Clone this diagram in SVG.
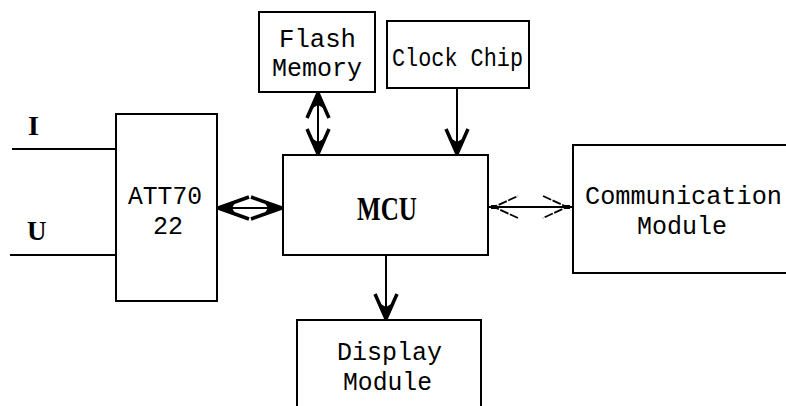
<svg xmlns="http://www.w3.org/2000/svg" width="786" height="406" viewBox="0 0 786 406">
<style>
.box{fill:#fff;stroke:#000;stroke-width:2}
.mono{font-family:"Liberation Mono","DejaVu Sans Mono",monospace;font-size:25px;fill:#000}
.bold{font-family:"Liberation Serif","DejaVu Serif",serif;font-weight:bold;fill:#000}
.ln{stroke:#000;stroke-width:2;fill:none}
</style>
<defs>
<marker id="heavy" markerUnits="userSpaceOnUse" markerWidth="30" markerHeight="24" viewBox="0 0 30 24" refX="28" refY="12" orient="auto-start-reverse" overflow="visible">
<path d="M3,1 L28,12 L3,23" fill="none" stroke="#000" stroke-width="3.5" stroke-linejoin="miter"/>
<polygon points="28,12 12,5 16,12 12,19" fill="#000"/>
</marker>
<marker id="heavyLong" markerUnits="userSpaceOnUse" markerWidth="36" markerHeight="26" viewBox="0 0 36 26" refX="34" refY="13" orient="auto-start-reverse" overflow="visible">
<path d="M3,2 L34,13 L3,24" fill="none" stroke="#000" stroke-width="3.5"/>
<polygon points="34,13 15,5 20,13 15,21" fill="#000"/>
</marker>
<marker id="open" markerUnits="userSpaceOnUse" markerWidth="32" markerHeight="24" viewBox="0 0 32 24" refX="30" refY="12" orient="auto-start-reverse" overflow="visible">
<path d="M0,1 L24,12 L0,23" fill="none" stroke="#000" stroke-width="1.8" stroke-dasharray="9 1.5"/>
<rect x="22" y="10" width="5" height="4" fill="#000"/>
</marker>
</defs>
<g id="connectors">
<line class="ln" x1="12" y1="149" x2="116" y2="149"/>
<line class="ln" x1="10" y1="255" x2="116" y2="255"/>
<line class="ln" x1="218" y1="208" x2="282" y2="208" marker-start="url(#heavyLong)" marker-end="url(#heavyLong)"/>
<line class="ln" x1="318" y1="93" x2="318" y2="154" marker-start="url(#heavy)" marker-end="url(#heavy)"/>
<line class="ln" x1="457" y1="88" x2="457" y2="154" marker-end="url(#heavy)"/>
<line class="ln" x1="386" y1="255" x2="386" y2="319" marker-end="url(#heavy)"/>
<line class="ln" x1="488" y1="207" x2="573" y2="207" marker-start="url(#open)" marker-end="url(#open)"/>
</g>
<g id="label-I"><text class="bold" x="28" y="135" font-size="28">I</text></g>
<g id="label-U"><text class="bold" x="27" y="240" font-size="27">U</text></g>
<g id="att7022">
<rect class="box" x="116" y="114" width="101" height="187"/>
<text class="mono" x="128" y="204" textLength="74" lengthAdjust="spacingAndGlyphs">ATT70</text>
<text class="mono" x="153" y="234" textLength="30" lengthAdjust="spacingAndGlyphs">22</text>
</g>
<g id="mcu">
<rect class="box" x="283" y="155" width="205" height="100"/>
<text class="bold" x="357" y="220" font-size="34" textLength="60" lengthAdjust="spacingAndGlyphs">MCU</text>
</g>
<g id="flash">
<rect class="box" x="259" y="12" width="116" height="80"/>
<text class="mono" x="279" y="47" textLength="77" lengthAdjust="spacingAndGlyphs">Flash</text>
<text class="mono" x="272" y="76" textLength="90" lengthAdjust="spacingAndGlyphs">Memory</text>
</g>
<g id="clock">
<rect class="box" x="387" y="21" width="142" height="67"/>
<text class="mono" x="392" y="66" textLength="131" lengthAdjust="spacingAndGlyphs">Clock Chip</text>
</g>
<g id="comm">
<rect class="box" x="573" y="145" width="220" height="128"/>
<text class="mono" x="585" y="204" textLength="197" lengthAdjust="spacingAndGlyphs">Communication</text>
<text class="mono" x="637" y="234" textLength="90" lengthAdjust="spacingAndGlyphs">Module</text>
</g>
<g id="display">
<rect class="box" x="297" y="320" width="184" height="100"/>
<text class="mono" x="337" y="360" textLength="105" lengthAdjust="spacingAndGlyphs">Display</text>
<text class="mono" x="343" y="390" textLength="89" lengthAdjust="spacingAndGlyphs">Module</text>
</g>
</svg>
